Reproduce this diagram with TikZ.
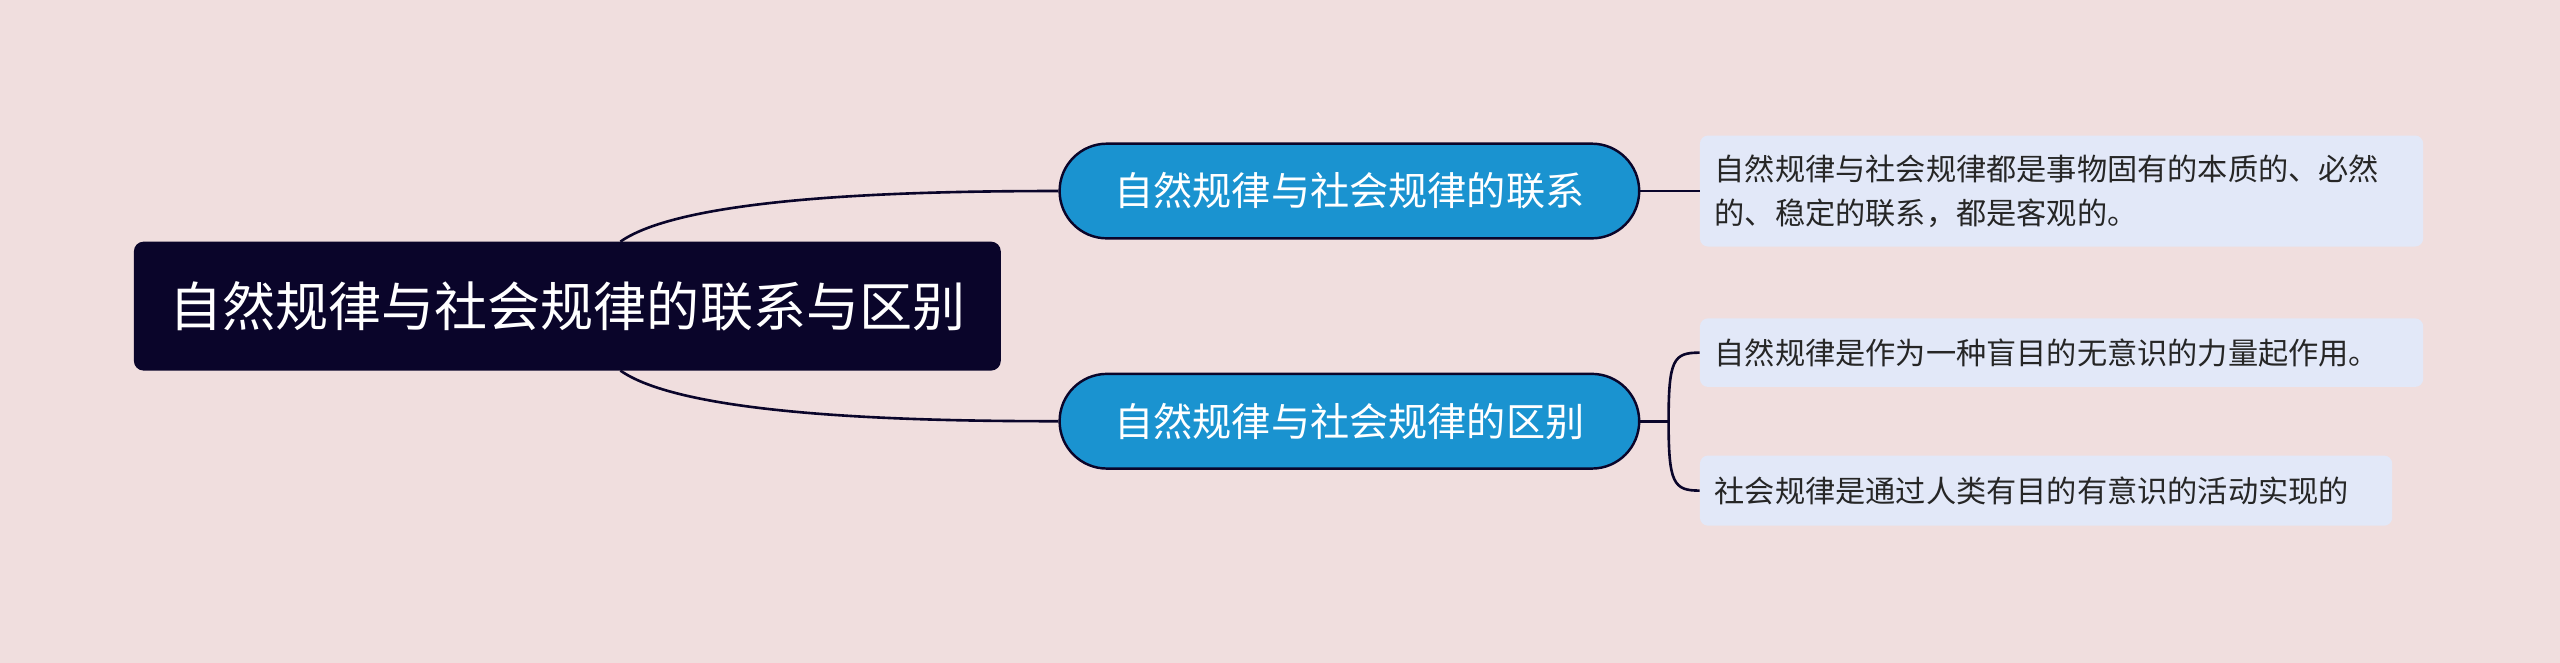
\documentclass[tikz,border=0pt]{standalone}
\usepackage{fontspec}
\newfontfamily\cjk{Noto Sans CJK SC}
\begin{document}
\begin{tikzpicture}[x=1pt,y=-1pt,
  root/.style={fill=rootc,rounded corners=6pt,text=white,font=\cjk\fontsize{32.5}{36}\selectfont,minimum width=531pt,minimum height=79pt,inner sep=0pt},
  branch/.style={fill=bluec,draw=linec,line width=1.5pt,rounded corners=29pt,text=white,font=\cjk\fontsize{24}{28}\selectfont,minimum width=355pt,minimum height=58pt,inner sep=0pt},
  leaf/.style={fill=leafc,rounded corners=5pt,text=black!85,font=\cjk\fontsize{18.5}{27}\selectfont,align=left,anchor=west,inner xsep=9pt},
  conn/.style={draw=linec,line width=1.6pt}]
\definecolor{bgc}{HTML}{F0DEDE}
\definecolor{rootc}{HTML}{0A052A}
\definecolor{bluec}{HTML}{1A93D0}
\definecolor{linec}{HTML}{0A052A}
\definecolor{leafc}{HTML}{E2E8F8}
\fill[bgc] (0,0) rectangle (1568,406);
\useasboundingbox (0,0) rectangle (1568,406);
\node[root] (r) at (347.5,187.5) {自然规律与社会规律的联系与区别};
\node[branch] (b1) at (826.5,117) {自然规律与社会规律的联系};
\node[branch] (b2) at (826.5,258) {自然规律与社会规律的区别};
\node[leaf,minimum height=68pt,text width=425pt] (l1) at (1041,117) {自然规律与社会规律都是事物固有的本质的、必然\\的、稳定的联系，都是客观的。};
\node[leaf,minimum height=42pt,text width=425pt] (l2) at (1041,216) {自然规律是作为一种盲目的无意识的力量起作用。};
\node[leaf,minimum height=43pt,text width=406pt] (l3) at (1041,300.5) {社会规律是通过人类有目的有意识的活动实现的};
\coordinate (rt) at (380,148);
\coordinate (rb) at (380,227);
\draw[conn] (rt) .. controls (420,120) and (560,117) .. (b1.west);
\draw[conn] (rb) .. controls (420,255) and (560,258) .. (b2.west);
\draw[conn] (b1.east) -- (l1.west);
\coordinate (j) at (1022,258);
\draw[conn] (b2.east) -- (j);
\draw[conn] (j) .. controls (1022,220) and (1025,216) .. (l2.west);
\draw[conn] (j) .. controls (1022,296) and (1025,300.5) .. (l3.west);
\end{tikzpicture}
\end{document}
